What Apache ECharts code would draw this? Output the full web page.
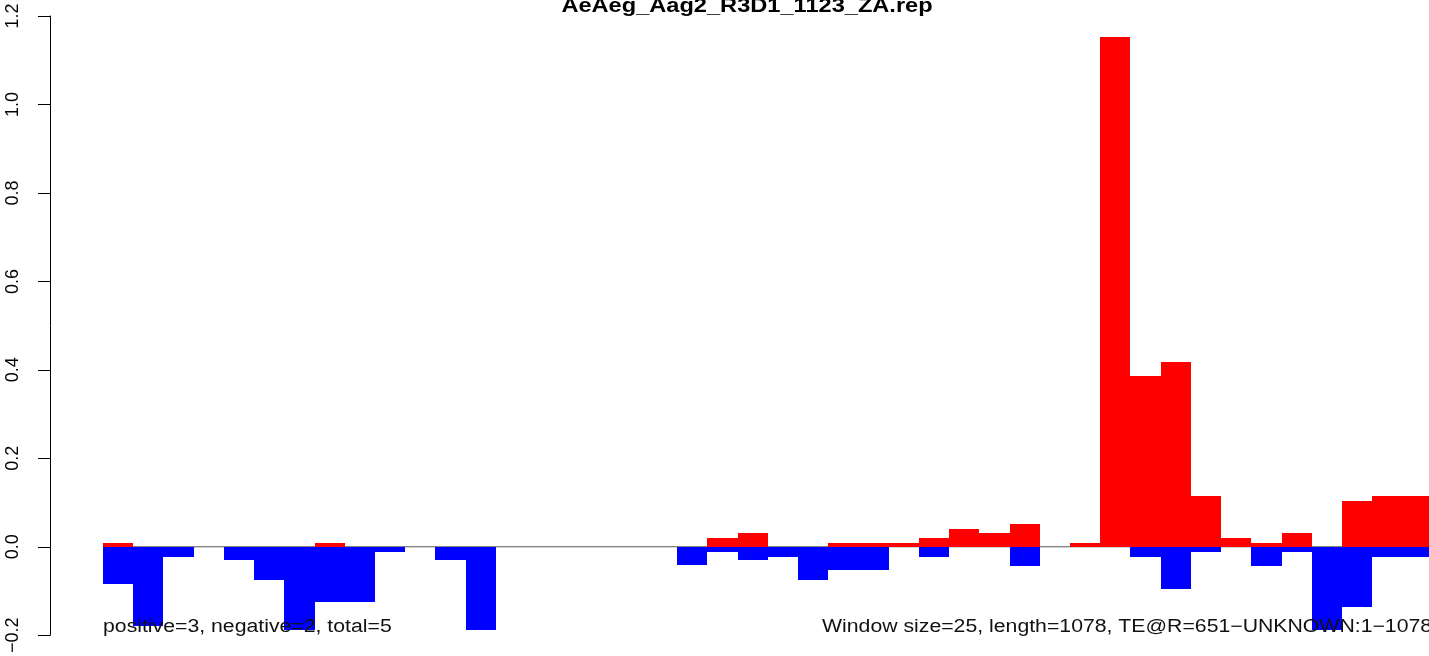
<!DOCTYPE html>
<html>
<head>
<meta charset="utf-8">
<script src="https://cdn.jsdelivr.net/npm/echarts@6/dist/echarts.min.js"></script>
<style>
html,body{margin:0;padding:0;background:#fff;}
#chart{width:1429px;height:656px;}
</style>
</head>
<body>
<div id="chart"></div>
<script>
// Window index (each window = 25 bp), 44 windows over length 1078
const windows = Array.from({length: 44}, (_, i) => i);
const positiveValues = [
  0.009, 0, 0, 0, 0, 0, 0, 0.009, 0, 0,
  0, 0, 0, 0, 0, 0, 0, 0, 0, 0,
  0.020, 0.032, 0, 0, 0.009, 0.009, 0.009, 0.020, 0.041, 0.032,
  0.052, 0, 0.009, 1.153, 0.387, 0.418, 0.115, 0.020, 0.009, 0.032,
  0, 0.104, 0.115, 0.115
];
const negativeValues = [
  -0.085, -0.179, -0.023, 0, -0.031, -0.074, -0.188, -0.125, -0.125, -0.011,
  0, -0.031, -0.188, 0, 0, 0, 0, 0, 0, -0.042,
  -0.011, -0.031, -0.023, -0.074, -0.053, -0.053, 0, -0.023, 0, 0,
  -0.043, 0, 0, 0, -0.023, -0.095, -0.011, 0, -0.043, -0.011,
  -0.188, -0.137, -0.023, -0.023
];
const yTicks = [-0.2, 0.0, 0.2, 0.4, 0.6, 0.8, 1.0, 1.2];
const titleText = 'AeAeg_Aag2_R3D1_1123_ZA.rep';
const leftNote = 'positive=3, negative=2, total=5';
const rightNote = 'Window size=25, length=1078, TE@R=651\u2212UNKNOWN:1\u22121078';

const FONT = '"Liberation Sans", Arial, Helvetica, sans-serif';
const SX = 1.18;

function barRender(color) {
  return function (params, api) {
    const k = api.value(0);
    const v = api.value(1);
    if (!v) return null;
    const p0 = api.coord([k, 0]);
    const p1 = api.coord([k + 1, v]);
    const xa = Math.round(p0[0]), xb = Math.round(p1[0]);
    const ya = Math.round(p0[1]), yb = Math.round(p1[1]);
    return {
      type: 'rect',
      shape: {x: Math.min(xa, xb), y: Math.min(ya, yb), width: Math.abs(xb - xa), height: Math.abs(yb - ya)},
      style: {fill: color, stroke: null}
    };
  };
}

const chart = echarts.init(document.getElementById('chart'), null, {renderer: 'canvas'});
chart.setOption({
  animation: false,
  backgroundColor: '#ffffff',
  grid: {left: 50, right: 0, top: 16, bottom: 16.7, containLabel: false},
  xAxis: {
    type: 'value', min: -1.754, max: 43.88,
    show: false, splitLine: {show: false}
  },
  yAxis: {
    type: 'value', min: yTicks[0], max: yTicks[yTicks.length - 1], interval: 0.2,
    axisLine: {show: true, onZero: false, lineStyle: {color: '#000', width: 1}},
    axisTick: {show: true, length: 12, lineStyle: {color: '#000', width: 1}},
    splitLine: {show: false},
    axisLabel: {
      rotate: 90, margin: 28, fontSize: 18, fontFamily: FONT, color: '#000',
      showMinLabel: true, showMaxLabel: true,
      formatter: v => v.toFixed(1).replace('-', '\u2212')
    }
  },
  series: [
    {
      type: 'line', data: [[0, 0], [windows.length, 0]], symbol: 'none', silent: true,
      lineStyle: {color: '#5a5a5a', width: 1}, z: 1
    },
    {
      type: 'custom', renderItem: barRender('#ff0000'), z: 2,
      data: windows.map((k, i) => [k, positiveValues[i]])
    },
    {
      type: 'custom', renderItem: barRender('#0000ff'), z: 2,
      data: windows.map((k, i) => [k, negativeValues[i]])
    }
  ],
  graphic: [
    {type: 'text', x: 747, y: 6, scaleX: SX, z: 10,
     style: {text: titleText, font: 'bold 20px ' + FONT, fill: '#000', textAlign: 'center', textVerticalAlign: 'middle'}},
    {type: 'text', x: 103, y: 627, scaleX: SX, z: 10,
     style: {text: leftNote, font: '18px ' + FONT, fill: '#111', textAlign: 'left', textVerticalAlign: 'middle'}},
    {type: 'text', x: 822, y: 627, scaleX: SX, z: 10,
     style: {text: rightNote, font: '18px ' + FONT, fill: '#111', textAlign: 'left', textVerticalAlign: 'middle'}}
  ]
});
</script>
</body>
</html>
